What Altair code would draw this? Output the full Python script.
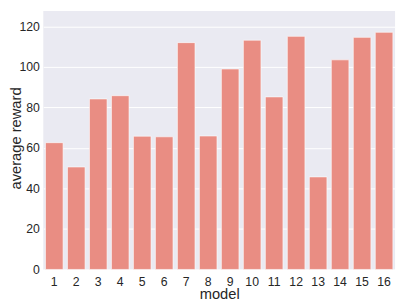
import altair as alt
import pandas as pd

models = [str(i) for i in range(1, 17)]
rewards = [62.6, 50.6, 84.2, 85.8, 65.8, 65.5, 112.0, 65.9,
           99.0, 113.2, 85.2, 115.1, 45.7, 103.5, 114.6, 117.1]
y_ticks = [0, 20, 40, 60, 80, 100, 120]

df = pd.DataFrame({"model": models, "reward": rewards})

FONT = "Liberation Sans"

chart = alt.Chart(df).mark_bar(
    color="#E98D83", stroke="white", strokeWidth=0.6
).encode(
    x=alt.X("model:N", sort=models, title="model",
            scale=alt.Scale(paddingInner=0.2, paddingOuter=0.1),
            axis=alt.Axis(labelAngle=0, ticks=False, domain=False, grid=False,
                          labelFontSize=12.5, labelPadding=6, labelColor="#262626",
                          labelFont=FONT, titleFont=FONT, titleFontSize=15,
                          titleFontWeight="normal", titleColor="#262626",
                          titleY=24.5, titleBaseline="middle")),
    y=alt.Y("reward:Q", title="average reward",
            scale=alt.Scale(domain=[0, 127.6], nice=False, zero=True),
            axis=alt.Axis(values=y_ticks, ticks=False, domain=False, grid=True,
                          gridColor="white", gridWidth=1,
                          labelFontSize=12.5, labelPadding=4, labelColor="#262626",
                          labelFont=FONT, titleFont=FONT, titleFontSize=15,
                          titleFontWeight="normal", titleColor="#262626",
                          titleX=-28.5, titleY=129.5, titleAlign="center",
                          titleBaseline="middle", titleAngle=-90)),
).properties(
    width=359, height=263.7,
    autosize=alt.AutoSizeParams(type="none"),
    padding={"left": 36, "top": 0, "right": 4, "bottom": 40},
).configure_view(
    fill="#EAEAF2", stroke=None
)

chart.save("out.html", embed_options={"renderer": "svg", "actions": False})
